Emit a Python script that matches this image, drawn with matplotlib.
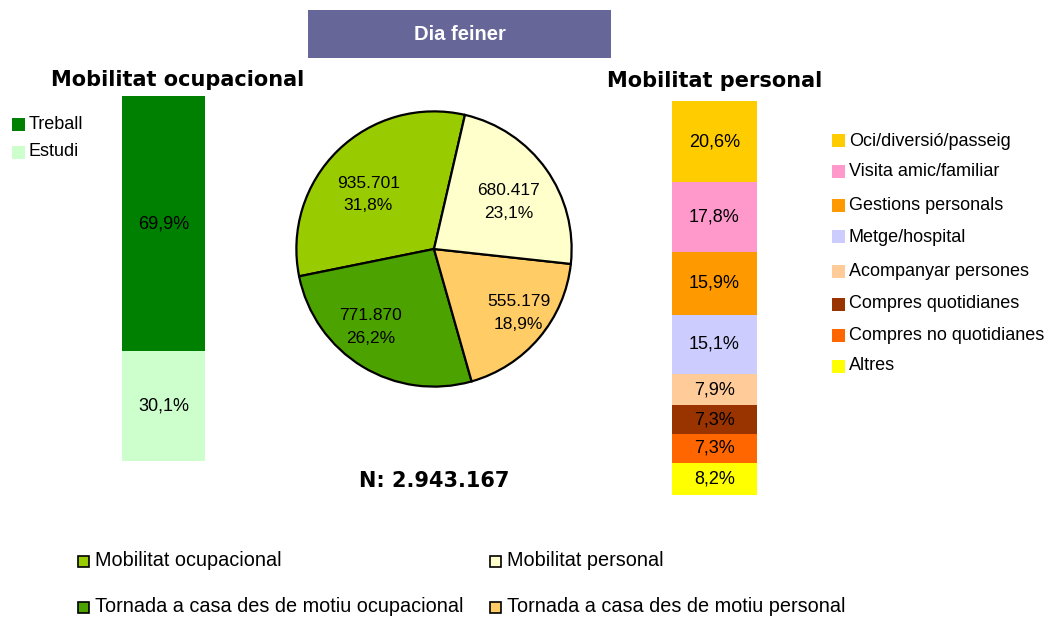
import matplotlib
matplotlib.use("Agg")
import numpy as np
import matplotlib.pyplot as plt
from matplotlib.patches import Rectangle

# data
occ_labels = ["Treball", "Estudi"]
occ_values = [69.9, 30.1]
occ_colors = ["#008000", "#CCFFCC"]

pie_labels = ["Mobilitat ocupacional", "Tornada a casa des de motiu ocupacional",
              "Tornada a casa des de motiu personal", "Mobilitat personal"]
pie_values = [935701, 771870, 555179, 680417]
pie_colors = ["#99CC00", "#4CA300", "#FFCC66", "#FFFFCC"]
total_n = 2943167

pers_labels = ["Oci/diversió/passeig", "Visita amic/familiar", "Gestions personals",
               "Metge/hospital", "Acompanyar persones", "Compres quotidianes",
               "Compres no quotidianes", "Altres"]
pers_values = [20.6, 17.8, 15.9, 15.1, 7.9, 7.3, 7.3, 8.2]
pers_colors = ["#FFCC00", "#FF99CC", "#FF9900", "#CCCCFF", "#FFCC99", "#993300",
               "#FF6600", "#FFFF00"]

plt.rcParams["font.family"] = "Liberation Sans"

W, H = 1063, 617
fig = plt.figure(figsize=(W / 100, H / 100), dpi=100)


def box(x0, y0, x1, y1):
    return [x0 / W, 1 - y1 / H, (x1 - x0) / W, (y1 - y0) / H]


def fx(x):
    return x / W


def fy(y):
    return 1 - y / H


def pct(v):
    return ("%.1f" % v).replace(".", ",") + "%"


def thousands(v):
    return "{:,}".format(v).replace(",", ".")


def swatch(x, y, size, color, edge=None):
    r = Rectangle((fx(x), fy(y + size / 2)), size / W, size / H, transform=fig.transFigure,
                  facecolor=color, edgecolor=edge if edge else color,
                  linewidth=1.2 if edge else 0)
    fig.add_artist(r)


# title box
fig.add_artist(Rectangle((fx(308), fy(58)), (611 - 308) / W, 48 / H,
                         transform=fig.transFigure, facecolor="#666699", edgecolor="none"))
fig.text(fx(459.5), fy(34), "Dia feiner", color="white", fontsize=14.5,
         fontweight="bold", ha="center", va="center")

# left stacked bar
ax1 = fig.add_axes(box(122, 96, 205, 461))
b = 0
for v, c in zip(occ_values[::-1], occ_colors[::-1]):
    ax1.bar(0, v, width=1, bottom=b, color=c)
    ax1.text(0, b + v / 2, pct(v), ha="center", va="center", fontsize=13)
    b += v
ax1.set_xlim(-0.5, 0.5)
ax1.set_ylim(0, sum(occ_values))
ax1.axis("off")
fig.text(fx(178), fy(80), "Mobilitat ocupacional", family="DejaVu Sans",
         fontweight="bold", fontsize=15, ha="center", va="center")
for i, (lab, c) in enumerate(zip(occ_labels, occ_colors)):
    y = 124 + i * 28
    swatch(12, y, 13, c)
    fig.text(fx(29), fy(y), lab, fontsize=13, va="center")

# pie
ax2 = fig.add_axes(box(295, 110, 573, 388))
wedges, texts, autotexts = ax2.pie(
    pie_values, colors=pie_colors, startangle=77, counterclock=True,
    autopct="%1.1f", pctdistance=0.68,
    wedgeprops=dict(edgecolor="black", linewidth=1.6),
    textprops=dict(fontsize=12.5))
label_r = [0.62, 0.73, 0.77, 0.64]
label_shift = [6, -8, 3, -3]
for t, w, v, r, s in zip(autotexts, wedges, pie_values, label_r, label_shift):
    t.set_text(thousands(v) + "\n" + pct(100 * v / total_n))
    t.set_linespacing(1.65)
    a = np.deg2rad((w.theta1 + w.theta2) / 2 + s)
    t.set_position((r * np.cos(a), r * np.sin(a)))
ax2.set_xlim(-1.01, 1.01)
ax2.set_ylim(-1.01, 1.01)
fig.text(fx(434), fy(481), "N: " + thousands(total_n), family="DejaVu Sans",
         fontweight="bold", fontsize=15, ha="center", va="center")

# right stacked bar
ax3 = fig.add_axes(box(672, 101, 757, 495))
b = 0
for v, c in zip(pers_values[::-1], pers_colors[::-1]):
    ax3.bar(0, v, width=1, bottom=b, color=c)
    ax3.text(0, b + v / 2, pct(v), ha="center", va="center", fontsize=13)
    b += v
ax3.set_xlim(-0.5, 0.5)
ax3.set_ylim(0, sum(pers_values))
ax3.axis("off")
fig.text(fx(715), fy(81), "Mobilitat personal", family="DejaVu Sans",
         fontweight="bold", fontsize=15, ha="center", va="center")
legend_y = [141, 171, 205, 237, 271, 304, 335, 366]
for lab, c, y in zip(pers_labels, pers_colors, legend_y):
    swatch(832, y, 13, c)
    fig.text(fx(849), fy(y), lab, fontsize=13, va="center")

# bottom legend
legend_order = [0, 3, 1, 2]
for k, idx in enumerate(legend_order):
    col, row = k % 2, k // 2
    x = 78 + col * 412
    y = 561 + row * 46
    swatch(x, y, 11, pie_colors[idx], edge="black")
    fig.text(fx(x + 17), fy(y), pie_labels[idx], fontsize=14.3, va="center")

fig.savefig("out.png", dpi=100)
